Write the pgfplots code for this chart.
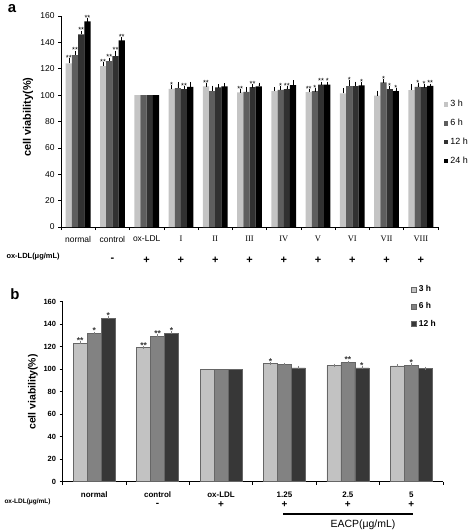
\documentclass[border=0pt]{standalone}
\usepackage{pgfplots}
\pgfplotsset{compat=1.18}
\usepackage{fontspec}
\setmainfont{Liberation Sans}
\newfontfamily\serif{Liberation Serif}
\definecolor{aA}{HTML}{C4C4C4}
\definecolor{aB}{HTML}{5E5E5E}
\definecolor{aC}{HTML}{313131}
\definecolor{aD}{HTML}{000000}
\definecolor{bA}{HTML}{C2C2C2}
\definecolor{bB}{HTML}{828282}
\definecolor{bC}{HTML}{373737}
\pgfplotsset{
  errsA/.style={error bars/.cd, y dir=plus, y explicit,
     error bar style={draw=black, line width=0.45bp},
     error mark options={draw=black, line width=0.45bp, mark size=1.7bp}},
  errsB/.style={error bars/.cd, y dir=plus, y explicit,
     error bar style={draw=black!50, line width=0.4bp},
     error mark options={draw=black!50, line width=0.4bp, mark size=1.5bp}},
  starsA/.style={nodes near coords, point meta=explicit symbolic,
     visualization depends on={\thisrow{h}\as\hh},
     every node near coord/.append style={text=black, inner sep=0.2bp, anchor=south,
        font=\fontsize{7.5}{7.5}\selectfont, yshift=\hh*1.319bp-0.8bp}},
  starsB/.style={nodes near coords, point meta=explicit symbolic,
     every node near coord/.append style={text=black!80, inner sep=0.3bp, anchor=south,
        font=\bfseries\fontsize{8.5}{8.5}\selectfont, yshift=-1bp}},
}
\begin{document}
\begin{tikzpicture}
\useasboundingbox (0,0) rectangle (472bp,-531bp);
% ---------------- panel a ----------------
\node[font=\bfseries\fontsize{15}{15}\selectfont] at (12bp,-9bp) {a};
\node[font=\bfseries\fontsize{11}{11}\selectfont, rotate=90] at (28bp,-117bp) {cell viability(\%)};
\begin{axis}[
  at={(61bp,-227bp)}, anchor=south west, scale only axis,
  width=377bp, height=211bp,
  xmin=0, xmax=11, ymin=0, ymax=160,
  axis x line*=bottom, axis y line*=left, axis line style={-, line width=0.8bp},
  ybar=0pt, bar width=6.2bp,
  ytick={0,20,...,160},
  xtick={0.5,1.5,...,10.5},
  xticklabels={normal,control,ox-LDL,{\serif I},{\serif II},{\serif III},{\serif IV},{\serif V},{\serif VI},{\serif VII},{\serif VIII}},
  minor xtick={0,1,...,11},
  major x tick style={draw=none},
  tick align=outside, major tick length=3bp, minor tick length=3bp,
  tick style={line width=0.6bp, black},
  /pgf/number format/assume math mode=true,
  yticklabel style={font=\fontsize{8.5}{9}\selectfont},
  xticklabel style={font=\fontsize{8.5}{9}\selectfont, yshift=-2.5bp},
  clip=false,
  legend style={at={(1.015,0.61)}, anchor=north west, draw=none, fill=none,
     inner sep=0pt, row sep=6.8bp, font=\fontsize{9}{9}\selectfont},
  legend cell align=left,
  legend image code/.code={\fill[#1] (0bp,-2.3bp) rectangle (4.5bp,2.3bp);},
]
\addplot[fill=aA, draw=none, starsA, errsA] table[x=x,y=y,y error=e,meta=s,col sep=comma]{
x,y,e,h,s
0.5,124,2.5,2.5,**
1.5,122,1.5,1.5,**
2.5,100,nan,0,
3.5,104.8,1.5,1.5,*
4.5,106.6,1,1,**
5.5,102,1,1,**
6.5,103,1.5,1.5,
7.5,102.3,1,1,**
8.5,101.3,2.5,2.5,
9.5,99.7,2.5,2.5,
10.5,103.8,3,3,
};
\addplot[fill=aB, draw=none, starsA, errsA] table[x=x,y=y,y error=e,meta=s,col sep=comma]{
x,y,e,h,s
0.5,130.3,2,2,**
1.5,125.7,1.5,1.5,**
2.5,100,nan,0,
3.5,105.3,3,3,
4.5,103,3,3,
5.5,102.5,2.5,2.5,
6.5,104,1.5,1.5,*
7.5,103,1,1,*
8.5,106.9,3,3,*
9.5,109.6,1,1,*
10.5,106.3,1.5,1.5,*
};
\addplot[fill=aC, draw=none, starsA, errsA] table[x=x,y=y,y error=e,meta=s,col sep=comma]{
x,y,e,h,s
0.5,146,1.5,1.5,**
1.5,129.5,3,3,**
2.5,100,nan,0,
3.5,104.6,1,1,**
4.5,105.8,1,1,
5.5,106,1,1,**
6.5,104.6,1,1,**
7.5,107.9,1,1,**
8.5,106.9,2,2,
9.5,104.6,1,1,*
10.5,106,1,1,*
};
\addplot[fill=aD, draw=none, starsA, errsA] table[x=x,y=y,y error=e,meta=s,col sep=comma]{
x,y,e,h,s
0.5,156,1,1,**
1.5,141.5,1,1,**
2.5,100,nan,0,
3.5,106.3,2.5,2.5,
4.5,106.6,1,1,
5.5,106.6,1.5,1.5,
6.5,107.6,2.5,2.5,
7.5,108,1,1,*
8.5,107.4,1,1,*
9.5,103,1,1,*
10.5,107,0.5,0.5,**
};
\legend{3 h,6 h,12 h,24 h}
\end{axis}
\node[anchor=west, font=\bfseries\fontsize{7.5}{8}\selectfont] at (3bp,-257bp) {ox-LDL(μg/mL)};
\foreach \i in {0,...,7}{
  \node[font=\bfseries\fontsize{11}{11}\selectfont] at ({61bp+(3.5+\i)*34.27bp},-260bp) {+};
}
\node[font=\bfseries\fontsize{11}{11}\selectfont] at ({61bp+2.5*34.27bp},-260bp) {+};
\node[font=\bfseries\fontsize{11}{11}\selectfont] at ({61bp+1.5*34.27bp},-260bp) {-};
% ---------------- panel b ----------------
\node[font=\bfseries\fontsize{15}{15}\selectfont] at (15bp,-294bp) {b};
\node[font=\bfseries\fontsize{10.5}{10.5}\selectfont, rotate=90] at (33bp,-392bp) {cell viability(\%)};
\begin{axis}[
  at={(62.5bp,-481.5bp)}, anchor=south west, scale only axis,
  width=380.5bp, height=180bp,
  xmin=0, xmax=6, ymin=0, ymax=160,
  axis x line*=bottom, axis y line*=left, axis line style={-, line width=0.8bp},
  ybar=0pt, bar width=14bp,
  ytick={0,20,...,160},
  xtick={0.5,1.5,...,5.5},
  xticklabels={normal,control,ox-LDL,1.25,2.5,5},
  minor xtick={0,1,...,6},
  major x tick style={draw=none},
  tick align=outside, major tick length=3bp, minor tick length=3bp,
  tick style={line width=0.6bp, black},
  /pgf/number format/assume math mode=true,
  yticklabel style={font=\bfseries\fontsize{7.5}{8}\selectfont},
  xticklabel style={font=\bfseries\fontsize{8}{8}\selectfont, yshift=-4bp},
  clip=false,
  legend style={at={(0.916,1.1)}, anchor=north west, draw=none, fill=none,
     inner sep=0pt, row sep=5.5bp, font=\bfseries\fontsize{8.5}{8.5}\selectfont},
  legend cell align=left,
  legend image code/.code={\filldraw[#1] (0bp,-2.5bp) rectangle (5bp,2.5bp);},
]
\addplot[fill=bA, draw=black!60, line width=0.6bp, starsB, errsB] table[x=x,y=y,y error=e,meta=s,col sep=comma]{
x,y,e,s
0.5,123,0.5,**
1.5,119,0.5,**
2.5,100,nan,
3.5,104.8,0.5,*
4.5,103,0.5,
5.5,102.7,0.3,
};
\addplot[fill=bB, draw=black!60, line width=0.6bp, starsB, errsB] table[x=x,y=y,y error=e,meta=s,col sep=comma]{
x,y,e,s
0.5,131.5,0.5,*
1.5,129,0.5,**
2.5,100,nan,
3.5,104,0.4,
4.5,105.7,0.4,**
5.5,103.3,0.4,*
};
\addplot[fill=bC, draw=black!60, line width=0.6bp, starsB, errsB] table[x=x,y=y,y error=e,meta=s,col sep=comma]{
x,y,e,s
0.5,145,0.6,*
1.5,131.7,0.5,*
2.5,100,nan,
3.5,101,0.4,
4.5,101,0.4,*
5.5,100.3,0.5,
};
\legend{3 h,6 h,12 h}
\end{axis}
\node[anchor=west, font=\bfseries\fontsize{6.5}{7}\selectfont] at (1bp,-502bp) {ox-LDL(μg/mL)};
\node[font=\bfseries\fontsize{10}{10}\selectfont] at ({62.5bp+1.5*63.42bp},-505bp) {-};
\foreach \i in {2,...,5}{
  \node[font=\bfseries\fontsize{10}{10}\selectfont] at ({62.5bp+(0.5+\i)*63.42bp},-505bp) {+};
}
\draw[line width=1.1bp] (283bp,-514bp) -- (413bp,-514bp);
\node[font=\fontsize{10.5}{11}\selectfont] at (363bp,-525bp) {EACP(μg/mL)};
\end{tikzpicture}
\end{document}
